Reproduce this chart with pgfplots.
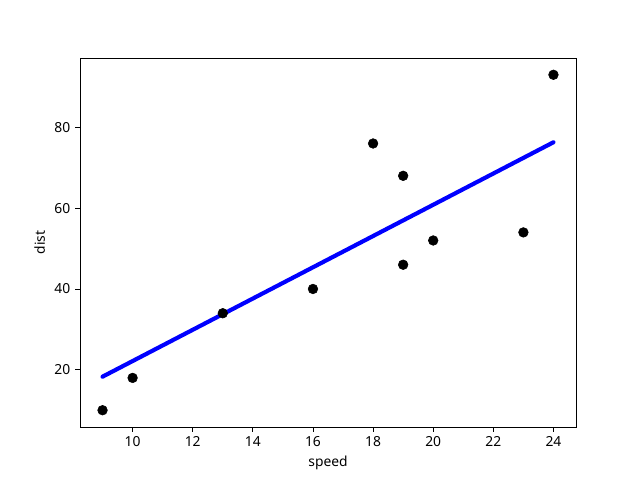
\documentclass[border=0pt]{standalone}
\usepackage{pgfplots}
\pgfplotsset{compat=1.18}
\usepackage{fontspec}
\setmainfont{Noto Sans}
\begin{document}
\begin{tikzpicture}
\begin{axis}[
  scale only axis,
  width=4.96in, height=3.69in,
  xmin=8.25, xmax=24.75, ymin=5.85, ymax=97.15,
  xtick={10,12,...,24}, ytick={20,40,60,80},
  tick align=outside, tick pos=left,
  major tick length=3.5pt,
  tick style={black, line width=0.6pt},
  axis line style={line width=0.6pt},
  /pgf/number format/assume math mode=true,
  ticklabel style={font=\fontsize{10}{12}\selectfont},
  label style={font=\fontsize{10}{12}\selectfont},
  xlabel={speed}, ylabel={dist},
  clip=false,
]
\addplot[only marks, mark=*, mark size=3.5pt, black] coordinates {
(9,10) (10,18) (13,34) (16,40) (18,76) (19,68) (19,46) (20,52) (23,54) (24,93)};
\addplot[blue, line width=3pt, line cap=round] coordinates {(9,18.3) (24,76.3)};
\end{axis}
\path[use as bounding box] (current axis.south west) ++(-0.8in,-0.53in) rectangle ++(6.4in,4.8in);
\end{tikzpicture}
\end{document}
